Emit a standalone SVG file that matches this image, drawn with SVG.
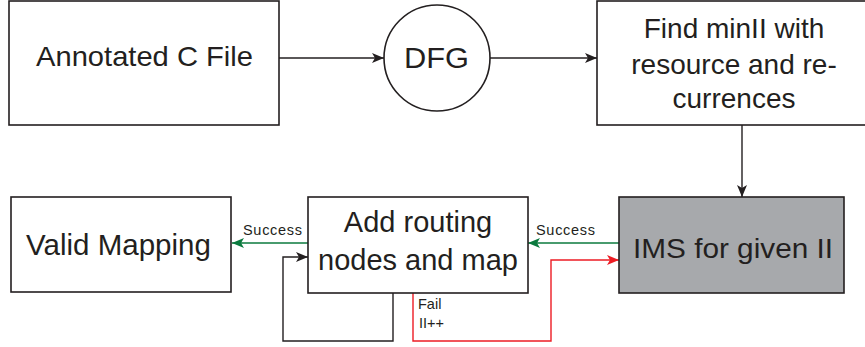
<svg xmlns="http://www.w3.org/2000/svg" width="865" height="347" viewBox="0 0 865 347">
  <style>
    .box { fill: #ffffff; stroke: #231f20; stroke-width: 1.6; }
    .grey { fill: #a7a9ac; }
    .t { fill: #231f20; font-family: "Liberation Sans", Arial, sans-serif; text-anchor: middle; }
    .big { font-size: 28px; }
    .small { font-family: "Liberation Sans", Arial, sans-serif; fill: #231f20; font-size: 14.5px; }
    .ln { fill: none; stroke: #231f20; stroke-width: 1.4; }
    .ok { fill: none; stroke: #0b7a3e; stroke-width: 1.4; }
    .bad { fill: none; stroke: #ed1c24; stroke-width: 1.4; }
  </style>
  <defs>
    <marker id="ah-black" viewBox="0 0 12 10" refX="12" refY="5" markerWidth="12" markerHeight="10" markerUnits="userSpaceOnUse" orient="auto">
      <path d="M0,0 L12,5 L0,10 L3,5 z" fill="#231f20"/>
    </marker>
    <marker id="ah-green" viewBox="0 0 12 10" refX="12" refY="5" markerWidth="12" markerHeight="10" markerUnits="userSpaceOnUse" orient="auto">
      <path d="M0,0 L12,5 L0,10 L3,5 z" fill="#0b7a3e"/>
    </marker>
    <marker id="ah-red" viewBox="0 0 12 10" refX="12" refY="5" markerWidth="12" markerHeight="10" markerUnits="userSpaceOnUse" orient="auto">
      <path d="M0,0 L12,5 L0,10 L3,5 z" fill="#ed1c24"/>
    </marker>
  </defs>

  <rect width="865" height="347" fill="#ffffff"/>

  <!-- connectors -->
  <g id="connectors">
    <path class="ln" d="M279,58 H384" marker-end="url(#ah-black)"/>
    <path class="ln" d="M490,58 H597" marker-end="url(#ah-black)"/>
    <path class="ln" d="M742,125 V197" marker-end="url(#ah-black)"/>
    <path class="ok" d="M619,243 H528" marker-end="url(#ah-green)"/>
    <path class="ok" d="M308,243 H232" marker-end="url(#ah-green)"/>
    <path class="ln" d="M393,293 V341 H283 V257 H308" marker-end="url(#ah-black)"/>
    <path class="bad" d="M413,293 V341 H551 V260 H619" marker-end="url(#ah-red)"/>
    <text class="small" x="243" y="235" textLength="59">Success</text>
    <text class="small" x="536" y="235" textLength="59">Success</text>
    <text class="small" x="418" y="309" font-size="13">Fail</text>
    <text class="small" x="419" y="328">II++</text>
  </g>

  <!-- nodes -->
  <g id="annotated-c-file">
    <rect class="box" x="9" y="1" width="270" height="124"/>
    <text class="t" x="144.5" y="66" font-family="'Open Sans', sans-serif" font-size="28" textLength="217" lengthAdjust="spacingAndGlyphs">Annotated C File</text>
  </g>

  <g id="dfg">
    <circle class="box" cx="437" cy="58" r="53"/>
    <text class="t" x="436.5" y="68" font-size="30" textLength="65" lengthAdjust="spacingAndGlyphs">DFG</text>
  </g>

  <g id="find-minii">
    <rect class="box" x="597" y="1" width="280" height="124"/>
    <text class="t big" x="734" y="38">Find minII with</text>
    <text class="t big" x="734" y="74">resource and re-</text>
    <text class="t big" x="734" y="108">currences</text>
  </g>

  <g id="ims">
    <rect class="box grey" x="619" y="197" width="225" height="96"/>
    <text class="t" x="733" y="258" font-size="28.5" textLength="200" lengthAdjust="spacingAndGlyphs">IMS for given II</text>
  </g>

  <g id="add-routing">
    <rect class="box" x="308" y="197" width="220" height="96"/>
    <text class="t" x="418" y="232" font-size="29">Add routing</text>
    <text class="t" x="418" y="270" font-size="29">nodes and map</text>
  </g>

  <g id="valid-mapping">
    <rect class="box" x="11" y="197" width="220" height="95"/>
    <text class="t" x="118.5" y="255" font-size="29.5">Valid Mapping</text>
  </g>
</svg>
